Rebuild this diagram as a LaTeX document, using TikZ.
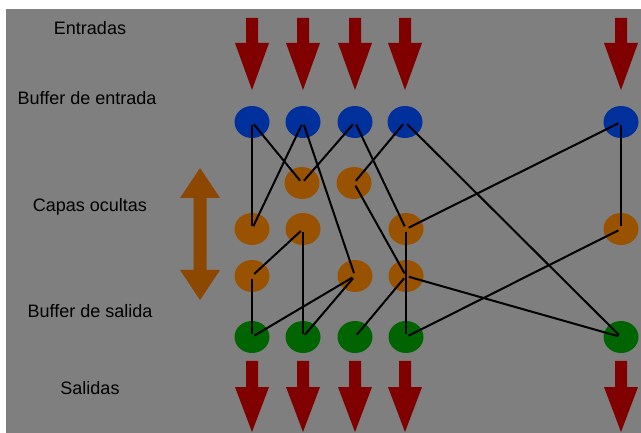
\documentclass[tikz,border=0pt]{standalone}
\usepackage{fontspec}
\setmainfont{Liberation Sans}
\usetikzlibrary{shapes.geometric}
\definecolor{bg}{RGB}{127,127,127}
\definecolor{nblue}{RGB}{0,48,155}
\definecolor{norange}{RGB}{152,82,0}
\definecolor{ngreen}{RGB}{0,100,0}
\definecolor{nred}{RGB}{128,0,0}
\definecolor{darrow}{RGB}{140,72,0}
\begin{document}
\begin{tikzpicture}[x=1pt,y=-1pt,
  neuron/.style={ellipse,minimum width=35pt,minimum height=32pt,inner sep=0pt},
  inb/.style={neuron,fill=nblue},
  hid/.style={neuron,fill=norange},
  outb/.style={neuron,fill=ngreen},
  link/.style={line width=2pt,black,shorten >=3pt,shorten <=3pt},
  lbl/.style={font=\fontsize{18}{21}\selectfont,text=black,anchor=base,inner sep=0pt},
  flowarrow/.style={fill=nred},
  layerarrow/.style={fill=darrow}]
\useasboundingbox (0,0) rectangle (641,433);
\fill[white] (0,0) rectangle (641,433);
\fill[bg] (6,9) rectangle (641,433);

% labels
\node[lbl] (t1) at (90,35) {Entradas};
\node[lbl] (t2) at (87,105) {Buffer de entrada};
\node[lbl] (t3) at (90,211.5) {Capas ocultas};
\node[lbl] (t4) at (90,318) {Buffer de salida};
\node[lbl] (t5) at (90,395) {Salidas};

% input / output arrows
\foreach \x in {252,303,355,405,621}{
  \fill[flowarrow] (\x-6,18) -- (\x+6,18) -- (\x+6,43) -- (\x+17,43) -- (\x,90) -- (\x-17,43) -- (\x-6,43) -- cycle;
  \fill[flowarrow] (\x-6,361) -- (\x+6,361) -- (\x+6,387) -- (\x+17,387) -- (\x,432) -- (\x-17,387) -- (\x-6,387) -- cycle;
}

% double arrow for hidden layers
\fill[layerarrow] (200,168) -- (220,198) -- (206.5,198) -- (206.5,270) -- (220,270) -- (200,300)
  -- (180,270) -- (193.5,270) -- (193.5,198) -- (180,198) -- cycle;

% neurons
\node[inb] (b1) at (252,122) {};
\node[inb] (b2) at (303,122) {};
\node[inb] (b3) at (355,122) {};
\node[inb] (b4) at (405,122) {};
\node[inb] (b5) at (621,122) {};

\node[hid] (h1a) at (302,183) {};
\node[hid] (h1b) at (354,183) {};

\node[hid] (h2a) at (252,229) {};
\node[hid] (h2b) at (303,229) {};
\node[hid] (h2c) at (406,229) {};
\node[hid] (h2d) at (621,229) {};

\node[hid] (h3a) at (252,276) {};
\node[hid] (h3b) at (355,276) {};
\node[hid] (h3c) at (406,276) {};

\node[outb] (g1) at (252,337) {};
\node[outb] (g2) at (303,337) {};
\node[outb] (g3) at (355,337) {};
\node[outb] (g4) at (406,337) {};
\node[outb] (g5) at (621,337) {};

% connections
\draw[link] (b1.center) -- (h2a.center);
\draw[link] (b1.center) -- (h1a.center);
\draw[link] (b2.center) -- (h2a.center);
\draw[link] (b2.center) -- (h3b.center);
\draw[link] (b3.center) -- (h1a.center);
\draw[link] (b3.center) -- (h2c.center);
\draw[link] (b4.center) -- (h1b.center);
\draw[link] (b4.center) -- (g5.center);
\draw[link] (b5.center) -- (h2c.center);
\draw[link] (b5.center) -- (h2d.center);
\draw[link] (h1b.center) -- (h3c.center);
\draw[link] (h2b.center) -- (h3a.center);
\draw[link] (h2b.center) -- (g2.center);
\draw[link] (h2c.center) -- (g4.center);
\draw[link] (h2d.center) -- (g4.center);
\draw[link] (h3a.center) -- (g1.center);
\draw[link] (h3b.center) -- (g1.center);
\draw[link] (h3b.center) -- (g2.center);
\draw[link] (h3c.center) -- (g3.center);
\draw[link] (h3c.center) -- (g5.center);
\end{tikzpicture}
\end{document}
